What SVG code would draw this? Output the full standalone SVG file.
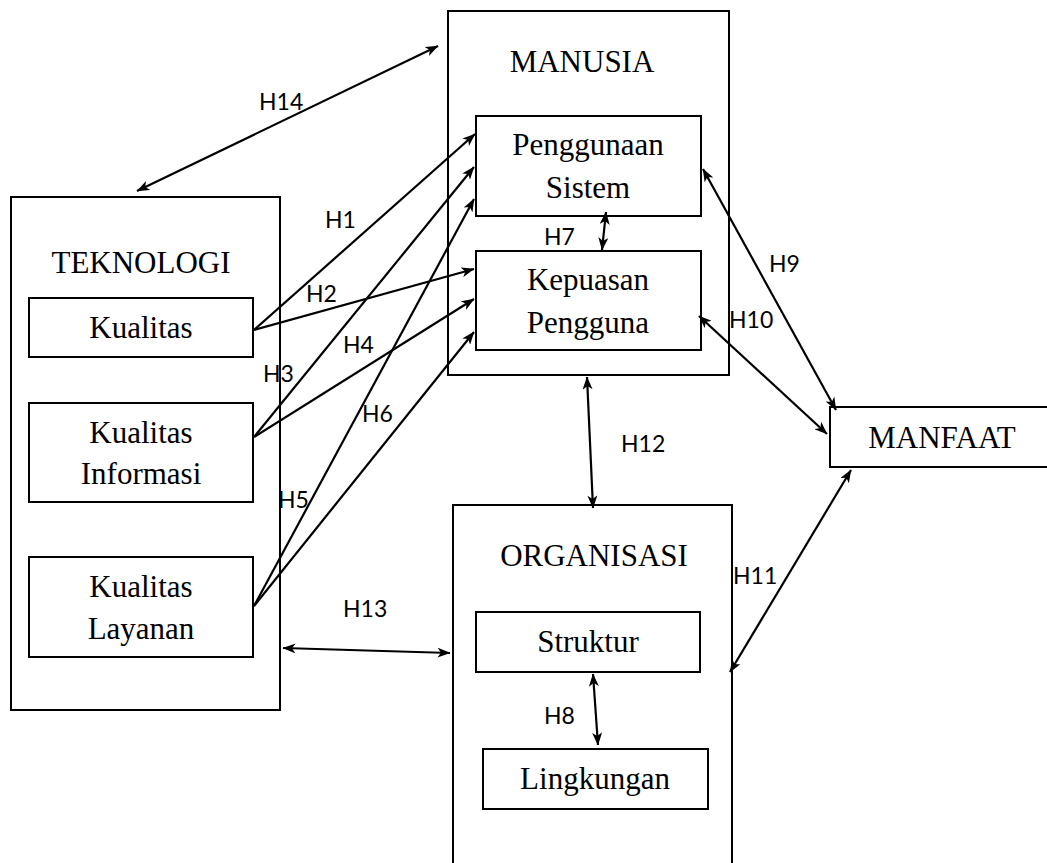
<svg xmlns="http://www.w3.org/2000/svg" width="1047" height="863" viewBox="0 0 1047 863">
<style>
.box{fill:#fff;stroke:#000;stroke-width:2}
.t{font-family:"Liberation Serif","Times New Roman",serif;font-size:31px;fill:#000;text-anchor:middle}
.lb{font-family:Lato,"Liberation Sans",sans-serif;font-size:23px;fill:#000}
.c line{stroke:#000;stroke-width:2.2;fill:none}
.s{marker-end:url(#ah)}
.d{marker-start:url(#ah);marker-end:url(#ah)}
</style>
<defs>
<marker id="ah" viewBox="0 0 13 10" refX="12.5" refY="5" markerWidth="13" markerHeight="10" markerUnits="userSpaceOnUse" orient="auto-start-reverse">
<path d="M0,0 L13,5 L0,10 L3.5,5 z" fill="#000"/>
</marker>
</defs>
<rect width="1047" height="863" fill="#fff"/>
<g id="teknologi">
<rect class="box" x="11" y="197" width="269" height="513"/>
<text class="t" x="141" y="273">TEKNOLOGI</text>
</g>
<g id="kualitas">
<rect class="box" x="29" y="298" width="224" height="59"/>
<text class="t" x="141" y="338">Kualitas</text>
</g>
<g id="kualitas-informasi">
<rect class="box" x="29" y="403" width="224" height="99"/>
<text class="t" x="141" y="443">Kualitas</text>
<text class="t" x="141" y="484">Informasi</text>
</g>
<g id="kualitas-layanan">
<rect class="box" x="29" y="557" width="224" height="100"/>
<text class="t" x="141" y="597">Kualitas</text>
<text class="t" x="141" y="639">Layanan</text>
</g>
<g id="manusia">
<rect class="box" x="448" y="11" width="281" height="364"/>
<text class="t" x="582" y="72">MANUSIA</text>
</g>
<g id="penggunaan-sistem">
<rect class="box" x="476" y="116" width="225" height="100"/>
<text class="t" x="588" y="155">Penggunaan</text>
<text class="t" x="588" y="198">Sistem</text>
</g>
<g id="kepuasan-pengguna">
<rect class="box" x="476" y="251" width="225" height="99"/>
<text class="t" x="588" y="290">Kepuasan</text>
<text class="t" x="588" y="333">Pengguna</text>
</g>
<g id="organisasi">
<rect class="box" x="453" y="505" width="279" height="380"/>
<text class="t" x="594" y="566">ORGANISASI</text>
</g>
<g id="struktur">
<rect class="box" x="476" y="612" width="224" height="60"/>
<text class="t" x="588" y="652">Struktur</text>
</g>
<g id="lingkungan">
<rect class="box" x="483" y="749" width="225" height="60"/>
<text class="t" x="595" y="789">Lingkungan</text>
</g>
<g id="manfaat">
<rect class="box" x="830" y="407" width="230" height="60"/>
<text class="t" x="942" y="448">MANFAAT</text>
</g>
<g id="connectors" class="c">
<line class="d" x1="137" y1="191" x2="438" y2="46"/>
<line class="s" x1="254" y1="330" x2="475" y2="134"/>
<line class="s" x1="254" y1="330" x2="474" y2="269"/>
<line class="s" x1="254" y1="437" x2="474" y2="167"/>
<line class="s" x1="254" y1="437" x2="474" y2="299"/>
<line class="s" x1="254" y1="606" x2="474" y2="199"/>
<line class="s" x1="254" y1="606" x2="474" y2="332"/>
<line class="d" x1="606" y1="212" x2="602" y2="250"/>
<line class="d" x1="703" y1="169" x2="836" y2="410"/>
<line class="d" x1="699" y1="316" x2="827" y2="434"/>
<line class="d" x1="730" y1="672" x2="851" y2="470"/>
<line class="d" x1="587" y1="377" x2="593" y2="508"/>
<line class="d" x1="283" y1="648" x2="450" y2="653"/>
<line class="d" x1="593" y1="674" x2="598" y2="745"/>
</g>
<g id="labels">
<text class="lb" x="259" y="110">H14</text>
<text class="lb" x="325" y="228">H1</text>
<text class="lb" x="306" y="302">H2</text>
<text class="lb" x="263" y="382">H3</text>
<text class="lb" x="343" y="353">H4</text>
<text class="lb" x="278" y="508">H5</text>
<text class="lb" x="362" y="422">H6</text>
<text class="lb" x="544" y="245">H7</text>
<text class="lb" x="544" y="724">H8</text>
<text class="lb" x="769" y="272">H9</text>
<text class="lb" x="729" y="328">H10</text>
<text class="lb" x="733" y="584">H11</text>
<text class="lb" x="621" y="452">H12</text>
<text class="lb" x="343" y="617">H13</text>
</g>
</svg>
